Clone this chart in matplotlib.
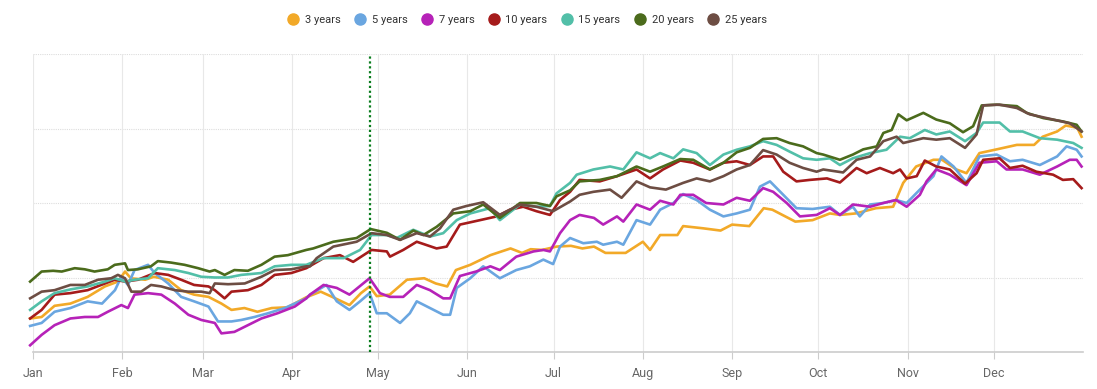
import numpy as np
import matplotlib
matplotlib.use('Agg')
import matplotlib.pyplot as plt
from matplotlib.lines import Line2D

plt.rcParams.update({'font.family': ['Roboto', 'DejaVu Sans']})

# day of year (0 = Jan 1) and value for each series
days_3y = [-1, 3, 7.5, 13, 19, 25, 29.5, 32, 34, 39, 42, 47, 51.5, 56, 61, 65.5, 69, 73.5, 78, 83, 88.5, 95, 100, 104, 110, 114, 117, 119.5, 124, 130, 136, 140, 144, 147, 152, 159, 166, 170, 173, 177, 182, 187, 191, 195, 199, 206, 212, 214.5, 218, 224, 226, 233, 239, 243, 249, 254, 257, 261, 265, 271, 277, 280.5, 286, 293, 299, 302.5, 307, 313, 316, 321, 324.5, 329, 335, 342, 348, 351, 356, 359, 363, 364.5]
vals_3y = [4.5, 4.7, 6.2, 6.5, 7.4, 8.8, 9.45, 10.8, 9.9, 9.7, 10.1, 9.7, 8.3, 7.7, 7.4, 6.5, 5.65, 5.9, 5.4, 5.9, 6.0, 7.35, 8.1, 7.4, 6.3, 7.9, 8.8, 7.5, 7.7, 9.7, 9.9, 9.2, 8.8, 11.0, 11.7, 13.0, 13.9, 13.3, 13.8, 13.7, 14.15, 14.25, 13.9, 14.15, 13.3, 13.3, 14.8, 13.7, 15.7, 15.7, 16.9, 16.6, 16.3, 17.1, 16.9, 19.3, 19.1, 18.3, 17.5, 17.7, 18.6, 18.4, 18.6, 19.3, 19.5, 22.7, 24.9, 25.8, 25.8, 24.5, 24.0, 26.7, 27.2, 27.8, 27.8, 28.9, 29.6, 30.4, 30.1, 28.9]

days_5y = [-1, 3, 7.5, 13, 19, 24, 28.5, 30.7, 33, 35.3, 40, 42.3, 47, 51.5, 56, 61, 64.3, 69, 72.4, 77, 81.7, 87.5, 95, 96.3, 102, 105.6, 110, 113.7, 117, 119.5, 123, 127.6, 131, 133.4, 138, 142.6, 145, 147.3, 152, 156.5, 162.3, 168, 172.7, 177.4, 180.8, 183.2, 186.7, 191.3, 196, 198.2, 203, 205.2, 209.8, 214.5, 218, 222.6, 226, 230.7, 235.3, 240, 244.6, 249.2, 252.7, 256.2, 260.8, 265.4, 271, 277, 280.5, 285, 287.4, 291, 295.6, 300, 303.7, 308.3, 313, 315.8, 320, 324.5, 329, 335, 339.6, 344, 350, 356, 359.3, 362.8, 364.5]
vals_5y = [3.5, 3.9, 5.4, 5.9, 6.8, 6.5, 8.3, 10.1, 9.0, 11.0, 11.7, 10.6, 9.2, 7.4, 6.8, 6.1, 4.1, 4.1, 4.3, 4.7, 5.2, 5.9, 7.2, 7.7, 9.0, 6.8, 5.65, 6.8, 7.9, 5.2, 5.2, 3.9, 5.2, 6.8, 5.9, 5.0, 5.0, 8.6, 9.9, 11.5, 9.9, 11.0, 11.5, 12.4, 11.8, 14.15, 15.3, 14.6, 14.8, 14.4, 14.8, 14.4, 17.7, 17.1, 19.1, 20.0, 21.2, 20.4, 19.1, 18.2, 18.6, 19.1, 22.2, 22.9, 21.1, 19.3, 19.2, 19.5, 18.4, 19.5, 18.2, 19.8, 20.0, 20.4, 20.0, 21.8, 23.6, 26.25, 24.9, 22.7, 26.25, 26.5, 25.6, 25.8, 25.1, 26.25, 27.6, 27.15, 26.25]

days_7y = [-1, 3, 7.5, 13, 18, 22.6, 26, 30.7, 33, 35.3, 40, 44.6, 49.3, 54, 58.5, 63.2, 65.5, 70, 74.7, 79.4, 85, 91, 95, 96.3, 101, 105.6, 110, 117, 120.6, 124, 128.7, 133.4, 138, 142.6, 145, 148.4, 154, 159, 162.3, 168, 174, 177.4, 179.7, 183.2, 186.7, 190, 195, 198.2, 203, 205.2, 209.8, 214.5, 218, 222.6, 225, 229.5, 234, 240, 244.6, 249.2, 253.8, 257.3, 262, 266.6, 272.4, 277, 280.5, 285, 291, 295.6, 300, 303.7, 308.3, 310.6, 314, 318.7, 324.5, 329, 335, 338.4, 344, 350, 356, 360.4, 362.8, 364.5]
vals_7y = [0.9, 2.3, 3.6, 4.5, 4.7, 4.7, 5.4, 6.3, 5.9, 7.7, 7.9, 7.7, 6.5, 5.0, 4.3, 3.9, 2.5, 2.7, 3.6, 4.5, 5.2, 6.1, 7.2, 7.7, 9.0, 8.6, 7.7, 9.9, 7.9, 7.4, 7.4, 9.0, 8.3, 7.2, 7.2, 10.2, 10.8, 11.5, 11.0, 12.8, 13.5, 13.7, 13.5, 15.95, 17.7, 18.4, 18.0, 17.1, 18.2, 17.5, 19.8, 19.1, 20.3, 19.8, 21.1, 21.1, 20.0, 19.8, 20.7, 20.3, 22.0, 21.5, 20.0, 18.2, 18.4, 19.3, 18.4, 19.8, 19.5, 20.0, 20.4, 19.5, 21.1, 22.9, 24.5, 23.8, 22.4, 25.4, 25.6, 24.5, 24.5, 23.8, 24.9, 25.8, 25.8, 24.9]

days_10y = [-1, 3, 7.5, 13, 19, 23.7, 28.4, 32, 36.5, 42.3, 47, 51.5, 56, 61, 63.2, 66.6, 69, 74.7, 79.4, 84, 89.8, 95, 101, 106.7, 111.3, 117.7, 123, 124.1, 128.7, 133.4, 140.3, 143.8, 148.4, 155.4, 161.2, 165.8, 170.4, 175, 179.7, 183.2, 186.7, 190, 197, 203, 209.8, 214.5, 219, 225, 229.5, 235.3, 240, 244.6, 249.2, 253.8, 257.3, 260.8, 265.4, 270, 276, 280.5, 286.3, 289.8, 294.4, 299, 301.4, 303.7, 307.2, 310, 314, 318.7, 324, 328, 330.3, 336, 339.6, 344, 348.8, 354.6, 358, 361.6, 364.5]
vals_10y = [4.5, 5.65, 7.7, 7.9, 8.3, 9.0, 9.7, 9.45, 9.7, 10.6, 10.35, 9.7, 9.0, 8.8, 8.3, 7.2, 8.1, 8.3, 9.0, 10.35, 10.6, 11.25, 12.6, 13.0, 12.1, 13.7, 13.5, 12.8, 13.7, 14.8, 13.9, 14.15, 17.1, 17.7, 18.2, 19.1, 19.5, 18.9, 18.4, 20.4, 21.5, 23.1, 22.9, 23.6, 24.5, 23.3, 24.5, 25.7, 25.4, 24.5, 25.4, 25.6, 25.1, 26.25, 26.25, 24.2, 22.9, 23.1, 23.3, 22.75, 24.7, 24.0, 24.7, 24.0, 24.5, 23.3, 23.6, 25.7, 24.9, 24.5, 22.6, 24.0, 25.8, 26.0, 24.7, 25.0, 24.2, 23.8, 23.1, 23.2, 22.0]

days_15y = [-1, 3, 7.5, 13, 19, 25, 28.4, 32, 35.3, 40, 43.4, 49.3, 54, 58.5, 63.2, 67.8, 72.4, 79.4, 84, 89.8, 95, 96.3, 101, 108, 113.7, 117.7, 123, 126.4, 132.2, 138, 142.6, 147.3, 152, 158.8, 162.3, 169.3, 175, 179.7, 182, 186.7, 189, 194.8, 200.6, 205.2, 209.8, 214.5, 218, 222.6, 226, 230.7, 235.3, 240, 244.6, 249.2, 253.8, 258.5, 263, 267.7, 272.4, 277, 280.5, 285, 291, 296.7, 301.4, 304.8, 310, 314, 318.7, 324, 328, 330.3, 336, 339.6, 344, 350, 356, 361.6, 364.5]
vals_15y = [5.65, 6.8, 7.9, 8.4, 8.8, 9.45, 9.9, 9.45, 9.7, 9.9, 11.25, 11.0, 10.6, 10.1, 10.0, 10.0, 10.35, 10.6, 11.5, 11.7, 11.7, 11.9, 12.6, 12.6, 13.7, 15.7, 15.7, 15.3, 16.4, 15.5, 15.95, 17.7, 18.6, 19.3, 17.7, 19.8, 19.5, 19.6, 21.3, 22.7, 23.8, 24.5, 24.9, 24.5, 26.8, 26.0, 26.7, 26.0, 27.2, 26.7, 25.1, 26.5, 27.15, 27.6, 28.3, 27.8, 26.9, 26.0, 25.8, 26.0, 25.1, 26.0, 26.7, 27.15, 28.9, 28.7, 29.8, 29.2, 29.6, 28.3, 29.4, 30.8, 30.8, 29.6, 29.6, 28.7, 28.5, 28.05, 27.4]

days_20y = [-1, 3, 7, 10, 14.5, 18, 21.4, 26, 28.4, 32, 33, 36.5, 41, 43.4, 48, 52.7, 57.4, 61.4, 63.2, 66.6, 70, 74.7, 79.4, 84, 88.6, 95, 97.4, 104.4, 112.5, 117.4, 123, 127.6, 132.2, 135.7, 140.3, 146.1, 152, 156.5, 162.3, 169.3, 175, 179.7, 182, 186.7, 190, 197, 203, 209.8, 214.5, 219, 225, 229.5, 235.3, 240, 244.6, 249.2, 253.8, 258.5, 263, 267.7, 272.4, 274.7, 280.5, 285, 288.6, 293.3, 295.6, 298.5, 300.8, 303.7, 309.5, 314, 318.7, 323.3, 326.8, 329.8, 335, 342, 345.4, 351.2, 358, 362.8, 364.5]
vals_20y = [9.45, 10.8, 10.9, 10.8, 11.25, 11.1, 10.8, 11.1, 11.7, 11.9, 11.0, 11.1, 11.5, 12.2, 12.0, 11.7, 11.25, 10.8, 11.0, 10.35, 11.0, 10.9, 11.7, 12.8, 13.0, 13.7, 13.9, 14.8, 15.3, 16.5, 16.0, 15.05, 16.3, 15.7, 16.8, 18.6, 18.9, 19.8, 18.0, 20.0, 20.0, 19.6, 20.9, 21.7, 22.9, 23.1, 23.6, 24.9, 24.2, 24.9, 25.9, 25.8, 24.5, 25.4, 26.8, 27.4, 28.6, 28.7, 28.05, 27.6, 26.7, 26.5, 25.8, 26.5, 27.2, 27.6, 29.4, 29.8, 31.9, 31.1, 32.1, 31.2, 30.7, 29.5, 30.3, 33.1, 33.2, 33.0, 32.1, 31.4, 30.95, 30.5, 29.6]

days_25y = [-1, 3, 7.5, 13, 18, 22.6, 27.2, 29.5, 32, 34.2, 37.6, 41, 44.6, 49.3, 54, 58.5, 61.4, 63.2, 67.8, 73.6, 79.4, 84, 89.8, 95, 96.3, 98.6, 104.4, 112.5, 117.7, 123, 127.6, 133.4, 138, 141.5, 146.1, 150.7, 156.5, 162.3, 169.3, 175, 180.8, 186.7, 190, 194.8, 200.6, 204.6, 209.8, 214.5, 220, 226, 230.7, 235.3, 240, 244.6, 249.2, 253.8, 258.5, 263, 267.7, 272.4, 274.7, 281.6, 286.3, 291, 295.6, 300.2, 302.5, 309.5, 314, 318.7, 324, 328, 330.3, 336, 342, 346.5, 353.5, 360.4, 364.5]
vals_25y = [7.2, 8.1, 8.3, 9.0, 9.0, 9.7, 9.9, 10.35, 9.9, 8.1, 8.1, 9.0, 8.8, 8.3, 8.1, 8.1, 7.9, 9.2, 9.1, 9.2, 10.1, 11.0, 11.1, 11.5, 11.5, 12.6, 14.15, 14.8, 15.95, 15.7, 15.05, 15.95, 15.5, 16.6, 19.1, 19.6, 20.1, 18.4, 19.8, 19.5, 18.9, 20.2, 21.1, 21.5, 21.8, 20.7, 22.9, 22.1, 21.8, 22.7, 23.3, 22.9, 23.6, 24.5, 25.1, 27.1, 26.5, 25.4, 24.7, 24.2, 24.5, 24.1, 25.8, 26.25, 28.3, 28.9, 28.05, 28.7, 28.5, 28.7, 27.4, 29.2, 33.1, 33.2, 32.75, 31.9, 31.3, 30.7, 29.6]

labels = ['3 years', '5 years', '7 years', '10 years', '15 years', '20 years', '25 years']
colors = ['#f2a928', '#6aa6e0', '#b622b8', '#a51b1b', '#52bfa8', '#4b6b1c', '#6d4d43']

month_starts = [0, 31, 59, 90, 120, 151, 181, 212, 243, 273, 304, 334]
month_names = ['Jan', 'Feb', 'Mar', 'Apr', 'May', 'Jun', 'Jul', 'Aug', 'Sep', 'Oct', 'Nov', 'Dec']
marker_day = 117

series = [(days_3y, vals_3y), (days_5y, vals_5y), (days_7y, vals_7y), (days_10y, vals_10y),
          (days_15y, vals_15y), (days_20y, vals_20y), (days_25y, vals_25y)]

fig = plt.figure(figsize=(10.97, 3.89), dpi=100)
ax = fig.add_axes([33/1097, 37/389, 1050/1097, 298/389])

for yv in [10, 20, 30, 40]:
    ax.axhline(yv, color='#dddddd', lw=0.8, ls=(0, (1, 1)), zorder=0)
for m in month_starts:
    ax.axvline(m, color='#e8e8e8', lw=0.8, zorder=0)

for (d, v), c in zip(series, colors):
    ax.plot(d, v, color=c, lw=1.9, solid_joinstyle='round', clip_on=False, zorder=3)

ax.axvline(marker_day, color='#0a7d1e', lw=1.6, ls=(0, (1, 1.2)), zorder=4)

ax.set_xlim(0, 365)
ax.set_ylim(0, 40)
ax.set_xticks(month_starts)
ax.set_xticklabels(month_names)
ax.set_yticks([])
ax.tick_params(axis='x', colors='#cccccc', length=5, width=0.8, labelcolor='#666666', labelsize=9, pad=6)
for s in ['top', 'right', 'left']:
    ax.spines[s].set_visible(False)
ax.spines['bottom'].set_color('#cccccc')
ax.spines['bottom'].set_linewidth(1.2)

handles = [Line2D([], [], ls='', marker='o', markersize=8, color=c) for c in colors]
fig.legend(handles, labels, loc='center', bbox_to_anchor=(0.478, 0.948), ncol=7, frameon=False,
           fontsize=8, handletextpad=0.05, columnspacing=0.75, labelcolor='#333333')

fig.savefig('out.png', dpi=100)
